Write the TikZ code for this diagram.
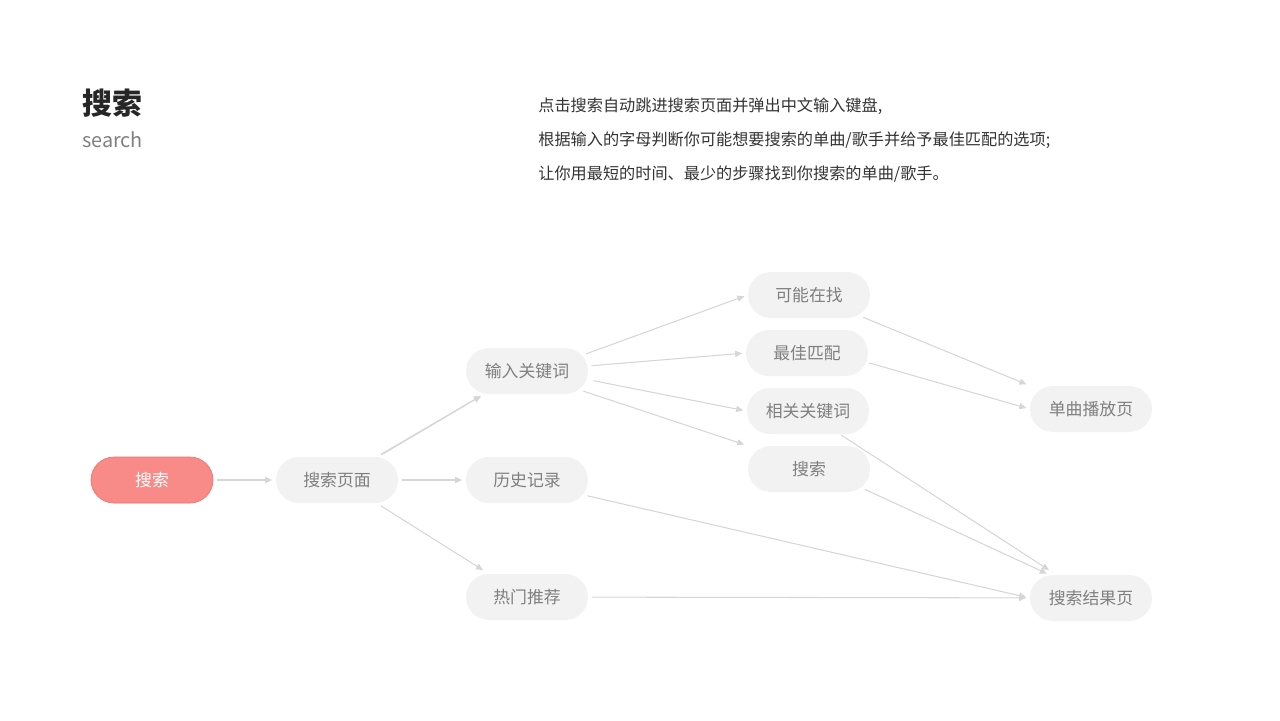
\documentclass[tikz,border=0pt]{standalone}
\usepackage{fontspec}
\setmainfont{Noto Sans CJK SC}
\usetikzlibrary{arrows.meta}
\definecolor{boxfill}{HTML}{F2F2F2}
\definecolor{boxtext}{HTML}{7F7F7F}
\definecolor{redfill}{HTML}{F88A87}
\definecolor{redline}{HTML}{EE7470}
\definecolor{edgecol}{HTML}{D6D6D6}
\tikzset{
 box/.style={rounded corners=23*0.02cm, fill=boxfill, minimum width=122*0.02cm, minimum height=46*0.02cm, text=boxtext, font=\fontsize{9.6}{11}\selectfont},
 redbox/.style={box, fill=redfill, draw=redline, text=white},
 edge/.style={draw=edgecol, line width=0.6pt, -{Triangle[length=4pt,width=3.5pt]}, shorten >=2pt, shorten <=2pt}
}
\begin{document}
\begin{tikzpicture}[x=0.02cm,y=-0.02cm]
\useasboundingbox (0,0) rectangle (1280,720);
\node[anchor=west,font=\fontsize{17}{20}\bfseries\selectfont,text=black!85] (title) at (76,103) {搜索};
\node[anchor=west,font=\fontsize{11.3}{13}\selectfont,text=black!50] (sub) at (76,140) {search};
\node[anchor=north west,align=left,font=\fontsize{9.2}{19.5}\selectfont,text=black!80,inner sep=0pt] (desc) at (538,97) {点击搜索自动跳进搜索页面并弹出中文输入键盘,\\根据输入的字母判断你可能想要搜索的单曲/歌手并给予最佳匹配的选项;\\让你用最短的时间、最少的步骤找到你搜索的单曲/歌手。};
\node[redbox] (s) at (152,480) {搜索};
\node[box] (sp) at (337,480) {搜索页面};
\node[box] (in) at (527,371) {输入关键词};
\node[box] (hi) at (527,480) {历史记录};
\node[box] (hot) at (527,597) {热门推荐};
\node[box] (k1) at (809,295) {可能在找};
\node[box] (k2) at (807,353) {最佳匹配};
\node[box] (k3) at (808,411) {相关关键词};
\node[box] (k4) at (809,469) {搜索};
\node[box] (song) at (1091,409) {单曲播放页};
\node[box] (res) at (1091,598) {搜索结果页};
\draw[edge] (s) -- (sp);
\draw[edge] (sp.north east) ++(-20,0) coordinate (a1) (a1) -- (in.south west -| 484,0) ;
\draw[edge] (378,456) -- (484,394);
\draw[edge] (sp) -- (hi);
\draw[edge] (378,504) -- (486,572);
\draw[edge] (583,355) -- (k1.west);
\draw[edge] (588,366) -- (k2.west);
\draw[edge] (590,380) -- (k3.west);
\draw[edge] (580,390) -- (k4.north west);
\draw[edge] (860,316) -- (song.north west);
\draw[edge] (866,362) -- (song.west);
\draw[edge] (838,433) -- (1052,572);
\draw[edge] (862,488) -- (1050,575);
\draw[edge] (584,495) -- (res.west);
\draw[edge] (hot) -- (res);
\end{tikzpicture}
\end{document}
